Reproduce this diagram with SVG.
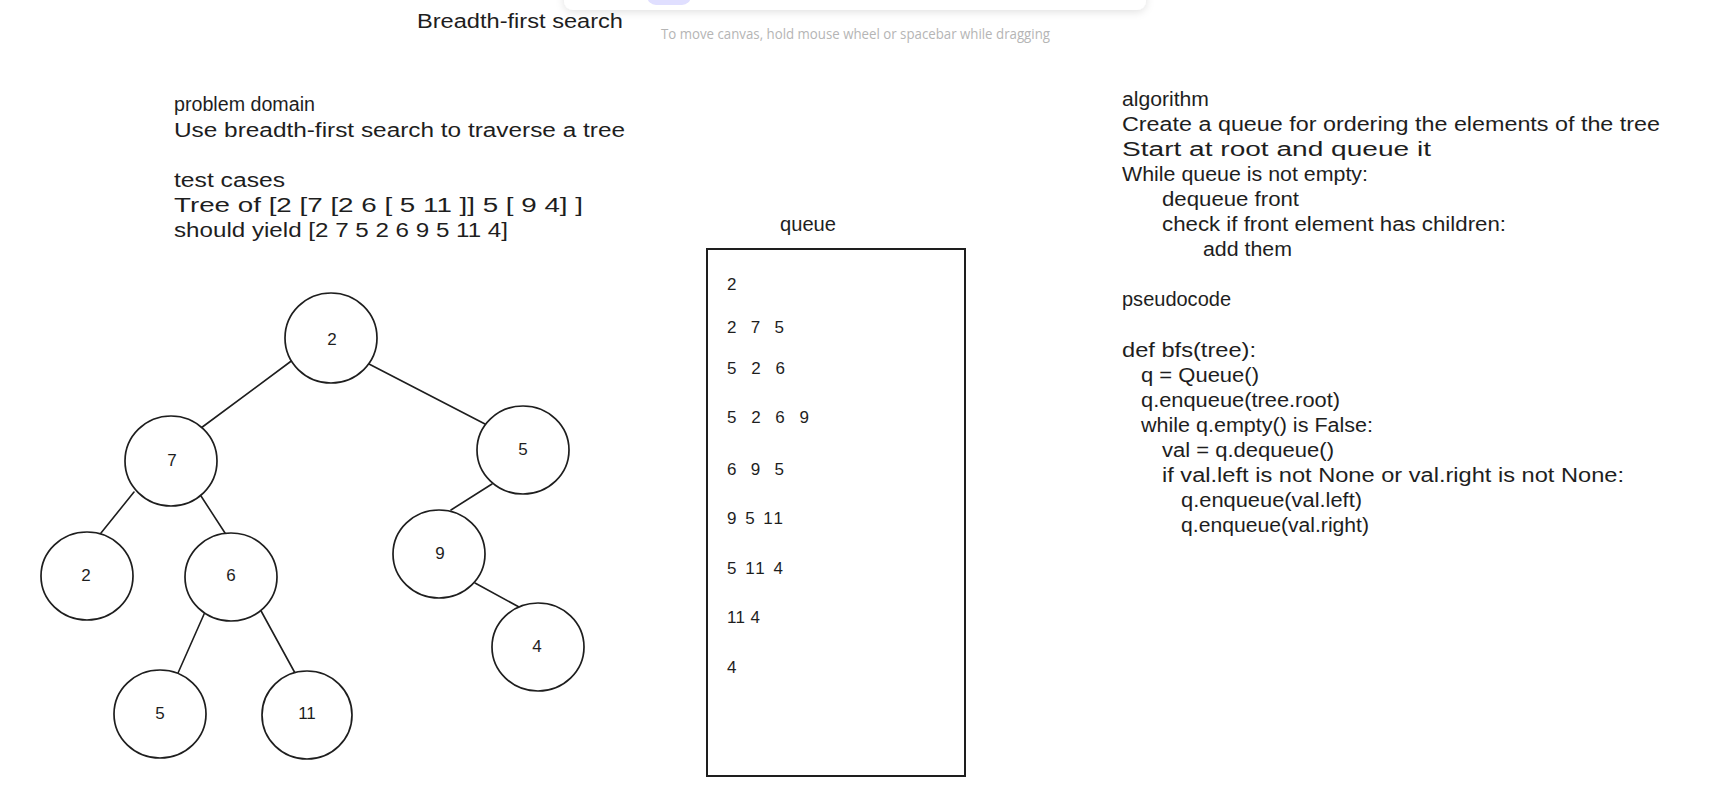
<svg xmlns="http://www.w3.org/2000/svg" width="1725" height="791" viewBox="0 0 1725 791">
<defs>
<style>
.t{font-family:"Liberation Sans","Open Sans",sans-serif;font-size:20px;fill:#1e1e1e}
.d{font-family:"Liberation Sans","Open Sans",sans-serif;font-size:17px;fill:#1e1e1e}
.n{font-family:"Liberation Sans","Open Sans",sans-serif;font-size:17px;fill:#1e1e1e;text-anchor:middle;dominant-baseline:central}
.hint{font-family:"Open Sans","Liberation Sans",sans-serif;font-size:15px;fill:#b5b5b5}
.c{fill:#ffffff;stroke:#1e1e1e;stroke-width:1.7}
.e{stroke:#1e1e1e;stroke-width:1.6;fill:none;stroke-linecap:round}
</style>
<filter id="sh" x="-10%" y="-50%" width="120%" height="250%">
<feDropShadow dx="0" dy="2" stdDeviation="4" flood-color="#000" flood-opacity="0.12"/>
</filter>
</defs>
<rect width="1725" height="791" fill="#ffffff"/>

<g id="toolbar">
<rect x="564" y="-40" width="582" height="50" rx="9" fill="#ffffff" filter="url(#sh)"/>
<rect x="647" y="-20" width="44" height="25" rx="9" fill="#e0dfff"/>
</g>

<text id="title" class="t" x="417" y="28" textLength="206" lengthAdjust="spacingAndGlyphs">Breadth-first search</text>
<text id="hint" class="hint" x="661" y="39" textLength="389" lengthAdjust="spacingAndGlyphs">To move canvas, hold mouse wheel or spacebar while dragging</text>

<g id="problem">
<text class="t" x="174" y="111" textLength="141" lengthAdjust="spacingAndGlyphs">problem domain</text>
<text class="t" x="174" y="137" textLength="451" lengthAdjust="spacingAndGlyphs">Use breadth-first search to traverse a tree</text>
<text class="t" x="174" y="187" textLength="111" lengthAdjust="spacingAndGlyphs">test cases</text>
<text class="t" x="174" y="212" textLength="409" lengthAdjust="spacingAndGlyphs">Tree of [2 [7 [2 6 [ 5 11 ]] 5 [ 9 4] ]</text>
<text class="t" x="174" y="237" textLength="334" lengthAdjust="spacingAndGlyphs">should yield [2 7 5 2 6 9 5 11 4]</text>
</g>

<g id="algorithm">
<text class="t" x="1122" y="106" textLength="87" lengthAdjust="spacingAndGlyphs">algorithm</text>
<text class="t" x="1122" y="131" textLength="538" lengthAdjust="spacingAndGlyphs">Create a queue for ordering the elements of the tree</text>
<text class="t" x="1122" y="156" textLength="309" lengthAdjust="spacingAndGlyphs">Start at root and queue it</text>
<text class="t" x="1122" y="181" textLength="246" lengthAdjust="spacingAndGlyphs">While queue is not empty:</text>
<text class="t" x="1162" y="206" textLength="137" lengthAdjust="spacingAndGlyphs">dequeue front</text>
<text class="t" x="1162" y="231" textLength="344" lengthAdjust="spacingAndGlyphs">check if front element has children:</text>
<text class="t" x="1203" y="256" textLength="89" lengthAdjust="spacingAndGlyphs">add them</text>
</g>

<g id="pseudocode">
<text class="t" x="1122" y="306" textLength="109" lengthAdjust="spacingAndGlyphs">pseudocode</text>
<text class="t" x="1122" y="357" textLength="134" lengthAdjust="spacingAndGlyphs">def bfs(tree):</text>
<text class="t" x="1141" y="382" textLength="118" lengthAdjust="spacingAndGlyphs">q = Queue()</text>
<text class="t" x="1141" y="407" textLength="199" lengthAdjust="spacingAndGlyphs">q.enqueue(tree.root)</text>
<text class="t" x="1141" y="432" textLength="232" lengthAdjust="spacingAndGlyphs">while q.empty() is False:</text>
<text class="t" x="1162" y="457" textLength="172" lengthAdjust="spacingAndGlyphs">val = q.dequeue()</text>
<text class="t" x="1162" y="482" textLength="462" lengthAdjust="spacingAndGlyphs">if val.left is not None or val.right is not None:</text>
<text class="t" x="1181" y="507" textLength="181" lengthAdjust="spacingAndGlyphs">q.enqueue(val.left)</text>
<text class="t" x="1181" y="532" textLength="188" lengthAdjust="spacingAndGlyphs">q.enqueue(val.right)</text>
</g>

<g id="queue">
<text class="t" x="780" y="231" textLength="56" lengthAdjust="spacingAndGlyphs">queue</text>
<rect x="707" y="249" width="258" height="527" fill="none" stroke="#1e1e1e" stroke-width="2"/>
<text class="d" x="727" y="290">2</text>
<text class="d" x="727" y="333" textLength="57" lengthAdjust="spacing">2 7 5</text>
<text class="d" x="727" y="374" textLength="58" lengthAdjust="spacing">5 2 6</text>
<text class="d" x="727" y="423" textLength="82" lengthAdjust="spacing">5 2 6 9</text>
<text class="d" x="727" y="475" textLength="57" lengthAdjust="spacing">6 9 5</text>
<text class="d" x="727" y="524" textLength="56" lengthAdjust="spacing">9 5 11</text>
<text class="d" x="727" y="574" textLength="56" lengthAdjust="spacing">5 11 4</text>
<text class="d" x="727" y="623" textLength="33" lengthAdjust="spacing">11 4</text>
<text class="d" x="727" y="673">4</text>
</g>

<g id="edges">
<line class="e" x1="294" y1="359" x2="201" y2="428"/>
<line class="e" x1="369" y1="364" x2="485" y2="424"/>
<line class="e" x1="134" y1="492" x2="101" y2="533"/>
<line class="e" x1="201" y1="496" x2="225" y2="533"/>
<line class="e" x1="492" y1="484" x2="451" y2="510"/>
<line class="e" x1="475" y1="583" x2="519" y2="607"/>
<line class="e" x1="205" y1="612" x2="178" y2="673"/>
<line class="e" x1="260" y1="609" x2="295" y2="673"/>
</g>

<g id="node-root"><ellipse class="c" cx="331" cy="338" rx="46" ry="45"/><text class="n" x="332" y="339">2</text></g>
<g id="node-7"><ellipse class="c" cx="171" cy="461" rx="46" ry="45"/><text class="n" x="172" y="460">7</text></g>
<g id="node-5r"><ellipse class="c" cx="523" cy="450" rx="46" ry="44"/><text class="n" x="523" y="449">5</text></g>
<g id="node-2l"><ellipse class="c" cx="87" cy="576" rx="46" ry="44"/><text class="n" x="86" y="575">2</text></g>
<g id="node-6"><ellipse class="c" cx="231" cy="577" rx="46" ry="44"/><text class="n" x="231" y="575">6</text></g>
<g id="node-9"><ellipse class="c" cx="439" cy="554" rx="46" ry="44"/><text class="n" x="440" y="553">9</text></g>
<g id="node-4"><ellipse class="c" cx="538" cy="647" rx="46" ry="44"/><text class="n" x="537" y="646">4</text></g>
<g id="node-5b"><ellipse class="c" cx="160" cy="714" rx="46" ry="44"/><text class="n" x="160" y="713">5</text></g>
<g id="node-11"><ellipse class="c" cx="307" cy="715" rx="45" ry="44"/><text class="n" x="307" y="713">11</text></g>
</svg>
